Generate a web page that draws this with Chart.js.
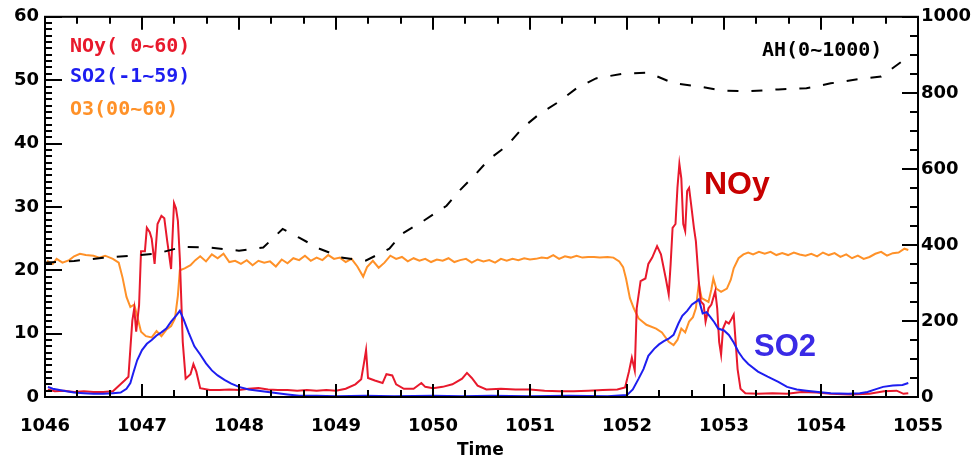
<!DOCTYPE html>
<html>
<head>
<meta charset="utf-8">
<script src="https://cdn.jsdelivr.net/npm/chart.js@4.4.1/dist/chart.umd.min.js"></script>
<style>
  body { margin: 0; background: #fff; }
  canvas { display: block; }
</style>
</head>
<body>
<canvas id="timeChart" width="980" height="462"></canvas>
<script>
// ===========================
// Data
// ===========================

const noyTime = [1046.03, 1046.1, 1046.2, 1046.3, 1046.4, 1046.5, 1046.6, 1046.7, 1046.77, 1046.82, 1046.86, 1046.88, 1046.9, 1046.92, 1046.94, 1046.97, 1046.99, 1047.03, 1047.05, 1047.08, 1047.1, 1047.13, 1047.16, 1047.2, 1047.23, 1047.26, 1047.3, 1047.33, 1047.35, 1047.37, 1047.39, 1047.42, 1047.45, 1047.5, 1047.53, 1047.56, 1047.6, 1047.7, 1047.8, 1047.9, 1048.0, 1048.1, 1048.2, 1048.3, 1048.4, 1048.5, 1048.6, 1048.7, 1048.8, 1048.9, 1049.0, 1049.1, 1049.2, 1049.26, 1049.29, 1049.31, 1049.33, 1049.4, 1049.48, 1049.52, 1049.58, 1049.62, 1049.7, 1049.8, 1049.88, 1049.92, 1050.0, 1050.1, 1050.2, 1050.3, 1050.35, 1050.4, 1050.46, 1050.55, 1050.7, 1050.85, 1051.0, 1051.15, 1051.3, 1051.45, 1051.6, 1051.75, 1051.9, 1051.98, 1052.02, 1052.05, 1052.08, 1052.1, 1052.14, 1052.19, 1052.22, 1052.26, 1052.31, 1052.35, 1052.4, 1052.43, 1052.45, 1052.47, 1052.5, 1052.52, 1052.54, 1052.56, 1052.58, 1052.6, 1052.62, 1052.64, 1052.66, 1052.69, 1052.71, 1052.74, 1052.76, 1052.79, 1052.81, 1052.84, 1052.87, 1052.91, 1052.93, 1052.95, 1052.97, 1052.99, 1053.02, 1053.05, 1053.08, 1053.1, 1053.12, 1053.14, 1053.17, 1053.22, 1053.35, 1053.5, 1053.65, 1053.8, 1053.95, 1054.1, 1054.3, 1054.5, 1054.65, 1054.78, 1054.85, 1054.9];
const noyValue = [1.2, 0.9, 1.0, 0.8, 0.9, 0.8, 0.8, 0.9, 1.9, 2.6, 3.2, 7.6, 12.0, 14.0, 10.3, 14.5, 23.0, 23.0, 26.7, 26.0, 25.0, 21.0, 27.3, 28.6, 28.2, 24.6, 20.2, 30.6, 29.8, 27.8, 21.9, 8.7, 2.9, 3.6, 5.2, 4.0, 1.4, 1.1, 1.1, 1.2, 1.1, 1.3, 1.4, 1.2, 1.1, 1.1, 1.0, 1.1, 1.0, 1.1, 1.0, 1.3, 2.0, 2.8, 5.5, 7.4, 3.0, 2.6, 2.2, 3.6, 3.4, 2.0, 1.3, 1.3, 2.2, 1.6, 1.4, 1.6, 2.0, 2.9, 3.8, 3.0, 1.8, 1.2, 1.3, 1.2, 1.2, 1.0, 0.9, 0.9, 1.0, 1.1, 1.2, 1.5, 4.0, 6.2, 4.2, 14.0, 18.3, 18.7, 21.0, 22.0, 23.8, 22.5, 18.7, 16.2, 21.0, 26.7, 27.3, 33.0, 36.8, 34.5, 27.3, 26.2, 32.5, 33.0, 30.5, 26.7, 24.6, 18.3, 15.1, 14.6, 11.9, 14.0, 14.6, 16.7, 14.0, 8.7, 6.7, 10.8, 11.9, 11.6, 12.4, 13.0, 8.7, 4.4, 1.3, 0.6, 0.5, 0.6, 0.5, 0.8, 0.7, 0.5, 0.4, 0.5, 0.9, 1.0, 0.5, 0.6];

const so2Time = [1046.03, 1046.08, 1046.15, 1046.22, 1046.3, 1046.4, 1046.5, 1046.6, 1046.7, 1046.78, 1046.84, 1046.88, 1046.91, 1046.95, 1047.0, 1047.05, 1047.1, 1047.15, 1047.2, 1047.25, 1047.3, 1047.35, 1047.39, 1047.43, 1047.48, 1047.54, 1047.6, 1047.66, 1047.72, 1047.78, 1047.85, 1047.92, 1048.0, 1048.1, 1048.2, 1048.3, 1048.4, 1048.5, 1048.62, 1048.8, 1049.0, 1049.3, 1049.6, 1050.0, 1050.3, 1050.6, 1051.0, 1051.4, 1051.8, 1052.0, 1052.06, 1052.12, 1052.17, 1052.22, 1052.28, 1052.33, 1052.38, 1052.43, 1052.48, 1052.53, 1052.57, 1052.62, 1052.67, 1052.71, 1052.74, 1052.78, 1052.82, 1052.86, 1052.9, 1052.94, 1053.0, 1053.05, 1053.1, 1053.15, 1053.2, 1053.25, 1053.35, 1053.45, 1053.56, 1053.65, 1053.75, 1053.85, 1053.97, 1054.1, 1054.28, 1054.4, 1054.48, 1054.56, 1054.64, 1054.74, 1054.84, 1054.9];
const so2Value = [1.6, 1.3, 1.1, 0.9, 0.7, 0.6, 0.5, 0.5, 0.6, 0.7, 1.3, 2.2, 3.8, 5.8, 7.4, 8.4, 9.0, 9.7, 10.2, 10.8, 11.9, 12.8, 13.6, 12.2, 10.2, 8.0, 6.7, 5.3, 4.2, 3.4, 2.7, 2.1, 1.6, 1.2, 1.0, 0.8, 0.6, 0.4, 0.2, 0.2, 0.1, 0.2, 0.1, 0.2, 0.1, 0.2, 0.1, 0.2, 0.1, 0.3, 1.2, 2.9, 4.4, 6.5, 7.6, 8.3, 8.8, 9.2, 9.8, 11.6, 12.8, 13.6, 14.6, 15.0, 15.4, 13.2, 13.4, 12.6, 11.8, 10.8, 10.5, 9.8, 8.6, 7.1, 6.0, 5.2, 4.0, 3.2, 2.4, 1.6, 1.2, 1.0, 0.8, 0.6, 0.5, 0.6, 0.8, 1.2, 1.6, 1.8, 1.9, 2.2];

const o3Time = [1046.02, 1046.08, 1046.12, 1046.18, 1046.25, 1046.3, 1046.36, 1046.42, 1046.5, 1046.56, 1046.62, 1046.7, 1046.76, 1046.8, 1046.84, 1046.88, 1046.92, 1046.95, 1046.99, 1047.04, 1047.1, 1047.15, 1047.2, 1047.25, 1047.3, 1047.34, 1047.37, 1047.39, 1047.44, 1047.5, 1047.55, 1047.6, 1047.66, 1047.72, 1047.78, 1047.84, 1047.9, 1047.96, 1048.02, 1048.08, 1048.14, 1048.2, 1048.26, 1048.32, 1048.38, 1048.44, 1048.5, 1048.56, 1048.62, 1048.68, 1048.74, 1048.8, 1048.86, 1048.92, 1048.98, 1049.04, 1049.1, 1049.16, 1049.22, 1049.28, 1049.32, 1049.38, 1049.44, 1049.5, 1049.56, 1049.62, 1049.68, 1049.74, 1049.8, 1049.86, 1049.92, 1049.98, 1050.04, 1050.1, 1050.16, 1050.22, 1050.28, 1050.34, 1050.4, 1050.46, 1050.52, 1050.58, 1050.64, 1050.7, 1050.76, 1050.82, 1050.88, 1050.94, 1051.0, 1051.06, 1051.12, 1051.18, 1051.24, 1051.3, 1051.36, 1051.42, 1051.48, 1051.54, 1051.6, 1051.66, 1051.72, 1051.8, 1051.86, 1051.92, 1051.96, 1051.99, 1052.03, 1052.07, 1052.12, 1052.2, 1052.3, 1052.36, 1052.43, 1052.48, 1052.52, 1052.56, 1052.6, 1052.64, 1052.68, 1052.71, 1052.74, 1052.77, 1052.84, 1052.87, 1052.89, 1052.92, 1052.97, 1053.03, 1053.07, 1053.1, 1053.15, 1053.2, 1053.25, 1053.3, 1053.36, 1053.42, 1053.48, 1053.54, 1053.6, 1053.66, 1053.72, 1053.78, 1053.84, 1053.9, 1053.96, 1054.02, 1054.08, 1054.14, 1054.2, 1054.26, 1054.32, 1054.38, 1054.44, 1054.5, 1054.56, 1054.62, 1054.68, 1054.74, 1054.8, 1054.86, 1054.9];
const o3Value = [21.5, 21.0, 21.8, 21.2, 21.6, 22.2, 22.6, 22.4, 22.3, 22.0, 22.3, 21.8, 21.2, 18.8, 15.8, 14.2, 14.6, 12.8, 10.3, 9.6, 9.4, 10.4, 9.6, 10.6, 11.2, 12.4, 16.0, 20.0, 20.3, 20.8, 21.6, 22.2, 21.4, 22.5, 21.9, 22.6, 21.3, 21.5, 21.0, 21.6, 20.8, 21.5, 21.2, 21.4, 20.6, 21.7, 21.1, 21.9, 21.6, 22.3, 21.5, 22.0, 21.6, 22.4, 21.8, 22.0, 21.3, 21.8, 20.6, 19.0, 20.5, 21.5, 20.4, 21.2, 22.3, 21.8, 22.1, 21.4, 21.9, 21.5, 21.8, 21.3, 21.7, 21.5, 21.9, 21.3, 21.6, 21.8, 21.2, 21.7, 21.4, 21.6, 21.2, 21.8, 21.5, 21.8, 21.6, 21.9, 21.7, 21.8, 22.0, 21.9, 22.4, 21.8, 22.2, 22.0, 22.3, 22.0, 22.1, 22.1, 22.0, 22.1, 22.0, 21.4, 20.5, 18.7, 15.6, 14.0, 12.4, 11.4, 10.8, 10.2, 8.7, 8.2, 9.0, 10.8, 10.2, 11.9, 12.6, 14.0, 17.8, 15.6, 15.0, 17.0, 18.7, 17.1, 16.6, 17.1, 18.5, 20.3, 21.9, 22.5, 22.8, 22.5, 22.9, 22.6, 22.9, 22.4, 22.7, 22.4, 22.8, 22.5, 22.3, 22.6, 22.2, 22.8, 22.4, 22.7, 22.1, 22.5, 21.9, 22.3, 21.8, 22.1, 22.6, 22.9, 22.3, 22.7, 22.8, 23.4, 23.2];

const ahTime = [1046.0, 1046.3, 1046.6, 1046.9, 1047.15, 1047.42, 1047.7, 1048.0, 1048.25, 1048.45, 1048.62, 1048.83, 1049.07, 1049.31, 1049.55, 1049.68, 1049.9, 1050.14, 1050.27, 1050.44, 1050.58, 1050.76, 1050.92, 1051.09, 1051.3, 1051.48, 1051.68, 1051.97, 1052.22, 1052.48, 1052.74, 1052.98, 1053.25, 1053.56, 1053.85, 1054.1, 1054.36, 1054.62, 1054.83, 1054.9];
const ahValue = [353, 358, 366, 372, 377, 395, 393, 385, 393, 442, 419, 390, 366, 359, 390, 429, 463, 503, 542, 586, 626, 660, 707, 743, 777, 812, 838, 851, 853, 825, 817, 806, 804, 809, 812, 825, 835, 843, 882, 895];

const xTickLabels = ['1046', '1047', '1048', '1049', '1050', '1051', '1052', '1053', '1054', '1055'];

function toPoints(times, values) {
    return times.map((t, i) => ({ x: t, y: values[i] }));
}

// ===========================
// IDL-style frame, inward ticks and annotations
// ===========================

const idlFrame = {
    id: 'idlFrame',
    afterDraw(chart) {
        const { ctx, chartArea: a, scales } = chart;
        ctx.save();
        ctx.strokeStyle = '#000';
        ctx.lineWidth = 2;
        ctx.strokeRect(a.left, a.top, a.right - a.left, a.bottom - a.top);

        ctx.beginPath();
        // bottom + top ticks, minor every 20 min
        for (let k = 0; k <= 27; k++) {
            const px = Math.round(scales.x.getPixelForValue(1046 + k / 3));
            const len = k % 3 === 0 ? 13 : 7;
            ctx.moveTo(px, a.bottom); ctx.lineTo(px, a.bottom - len);
            ctx.moveTo(px, a.top); ctx.lineTo(px, a.top + len);
        }
        // left ticks
        for (let v = 0; v <= 60; v++) {
            const py = Math.round(scales.y.getPixelForValue(v));
            const len = v % 10 === 0 ? 17 : 7;
            ctx.moveTo(a.left, py); ctx.lineTo(a.left + len, py);
        }
        // right ticks
        for (let v = 0; v <= 1000; v += 50) {
            const py = Math.round(scales.y2.getPixelForValue(v));
            const len = v % 200 === 0 ? 16 : 8;
            ctx.moveTo(a.right, py); ctx.lineTo(a.right - len, py);
        }
        ctx.stroke();

        // legend texts
        ctx.textBaseline = 'middle';
        ctx.font = 'bold 20px "DejaVu Sans Mono"';
        ctx.fillStyle = '#e8192c';
        ctx.fillText('NOy( 0~60)', 70, 47);
        ctx.fillStyle = '#1e1ef0';
        ctx.fillText('SO2(-1~59)', 70, 77);
        ctx.fillStyle = '#ff9128';
        ctx.fillText('O3(00~60)', 70, 110);
        ctx.fillStyle = '#000';
        ctx.fillText('AH(0~1000)', 762, 51);

        // big labels
        ctx.textBaseline = 'alphabetic';
        ctx.font = 'bold 32px "Liberation Sans"';
        ctx.fillStyle = '#c80000';
        ctx.fillText('NOy', 704, 194);
        ctx.font = 'bold 31px "Liberation Sans"';
        ctx.fillStyle = '#3a2ae6';
        ctx.fillText('SO2', 754, 356);

        // x title (cut by the bottom edge in the original)
        ctx.font = 'bold 17px "DejaVu Sans"';
        ctx.fillStyle = '#000';
        ctx.textBaseline = 'top';
        ctx.fillText('Time', 457, 442);
        ctx.restore();
    }
};

// ===========================
// Chart
// ===========================

const tickFont = { family: 'DejaVu Sans', size: 18, weight: 'bold' };

new Chart(document.getElementById('timeChart'), {
    type: 'line',
    data: {
        datasets: [
            {
                label: 'NOy',
                data: toPoints(noyTime, noyValue),
                borderColor: '#e8192c',
                borderWidth: 2,
                yAxisID: 'y',
                order: 2
            },
            {
                label: 'SO2',
                data: toPoints(so2Time, so2Value),
                borderColor: '#1e1ef0',
                borderWidth: 2,
                yAxisID: 'y',
                order: 1
            },
            {
                label: 'O3',
                data: toPoints(o3Time, o3Value),
                borderColor: '#ff9128',
                borderWidth: 2,
                yAxisID: 'y',
                order: 3
            },
            {
                label: 'AH',
                data: toPoints(ahTime, ahValue),
                borderColor: '#000',
                borderWidth: 2,
                borderDash: [11, 13],
                yAxisID: 'y2',
                order: 0
            }
        ]
    },
    options: {
        responsive: false,
        animation: false,
        layout: { padding: { top: 15 } },
        elements: {
            point: { radius: 0 },
            line: { tension: 0 }
        },
        plugins: {
            legend: { display: false },
            tooltip: { enabled: false }
        },
        scales: {
            x: {
                type: 'linear',
                min: 1046,
                max: 1055,
                grid: { display: false, drawTicks: false },
                border: { display: false },
                ticks: {
                    stepSize: 1,
                    padding: 19,
                    color: '#000',
                    font: tickFont,
                    maxRotation: 0,
                    callback: (v) => xTickLabels[Math.round(v - 1046)] || ''
                },
                afterFit: (s) => { s.height = 65; }
            },
            y: {
                position: 'left',
                min: 0,
                max: 60,
                grid: { display: false, drawTicks: false },
                border: { display: false },
                ticks: { stepSize: 10, padding: 6, color: '#000', font: tickFont },
                afterFit: (s) => { s.width = 45; }
            },
            y2: {
                position: 'right',
                min: 0,
                max: 1000,
                grid: { display: false, drawTicks: false },
                border: { display: false },
                ticks: {
                    stepSize: 200,
                    padding: 3,
                    color: '#000',
                    font: tickFont,
                    callback: (v) => String(v)
                },
                afterFit: (s) => { s.width = 62; }
            }
        }
    },
    plugins: [idlFrame]
});
</script>
</body>
</html>
